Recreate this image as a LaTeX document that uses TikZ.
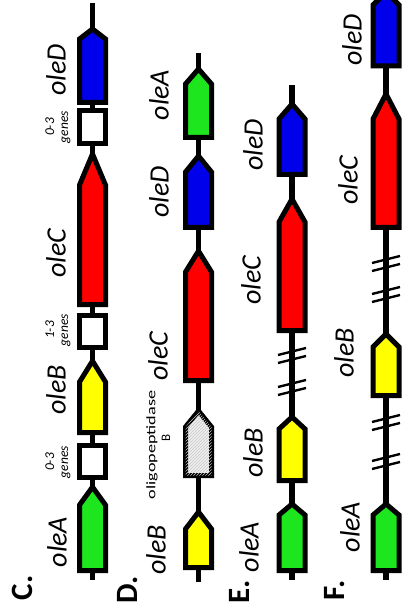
\documentclass[tikz,border=0pt]{standalone}
\usepackage{fontspec}
\setmainfont{Carlito}
\usetikzlibrary{patterns}
\definecolor{gG}{RGB}{30,230,30}
\definecolor{gY}{RGB}{255,255,0}
\definecolor{gR}{RGB}{255,0,0}
\definecolor{gB}{RGB}{0,0,235}
\definecolor{gH}{RGB}{240,240,240}
\tikzset{
  genebody/.style={draw=black, line width=5pt, line join=miter},
  backbone/.style={draw=black, line width=5.5pt},
  brkline/.style={draw=black, line width=2.4pt},
  genelab/.style={rotate=90, font=\fontsize{28}{28}\selectfont\itshape, inner sep=0pt},
  panellab/.style={rotate=90, font=\fontsize{31}{31}\selectfont\bfseries, inner sep=0pt},
  smalllab/.style={rotate=90, font=\fontsize{13.5}{14}\selectfont\itshape, align=center, inner sep=0pt},
  oligolab/.style={rotate=90, font=\fontsize{13}{13}\selectfont, inner sep=0pt},
}
\newcommand\genearrow[6]{%
  \draw[genebody, fill=#5] (#1,#2) coordinate (#6t) -- ({#1+13},#3) -- ({#1+13},#4) -- ({#1-13},#4) -- ({#1-13},#3) -- cycle;
  \coordinate (#6b) at (#1,#4);
}
\newcommand\genebox[4]{%
  \draw[genebody, fill=white] ({#1-13},#2) coordinate (#4t) rectangle ({#1+13},#3);
}
\newcommand\breakpair[3]{%
  \coordinate (#3) at (#1,#2);
  \draw[brkline, shift={(#3)}] (-14,-1) -- (14,-8) (-14,7) -- (14,0);
}
\begin{document}
\begin{tikzpicture}[x=1pt,y=-1pt]
\useasboundingbox (0,0) rectangle (404,609);
\clip (0,0) rectangle (404,609);
% ---------- C ----------
\coordinate (Ctop) at (92.5,3);
\coordinate (Cend) at (92.5,580);
\draw[backbone] (Ctop) -- (Cend);
\genearrow{92.5}{29}{39}{102.5}{gB}{CD}
\genebox{92.5}{110.5}{143.5}{Cx1}
\genearrow{92.5}{154}{185}{304.5}{gR}{CC}
\genebox{92.5}{315.5}{347.5}{Cx2}
\genearrow{92.5}{361}{382}{432.5}{gY}{CB}
\genebox{92.5}{445.5}{477.5}{Cx3}
\genearrow{92.5}{487}{505}{570.5}{gG}{CA}
\node[panellab] (labC) at (22,588) {C.};
\node[genelab] (lCA) at (57,542) {oleA};
\node[smalllab] (sC3) at (58,462) {0-3\\genes};
\node[genelab] (lCB) at (56,390) {oleB};
\node[smalllab] (sC2) at (58,330) {1-3\\genes};
\node[genelab] (lCC) at (56,253) {oleC};
\node[smalllab] (sC1) at (58,127) {0-3\\genes};
\node[genelab] (lCD) at (56,70) {oleD};
% ---------- D ----------
\coordinate (Dtop) at (198.5,53);
\coordinate (Dend) at (198.5,582);
\draw[backbone] (Dtop) -- (Dend);
\genearrow{198.5}{69}{84}{137.5}{gG}{DA}
\genearrow{198.5}{156}{172}{227.5}{gB}{DD}
\genearrow{198.5}{251}{272}{380.5}{gR}{DC}
\draw[genebody, fill=gH, postaction={pattern=north east lines, pattern color=gray!45}] (198.5,411) coordinate (DOt) -- (211.5,427) -- (211.5,475.5) -- (185.5,475.5) -- (185.5,427) -- cycle;
\genearrow{198.5}{512}{529}{567.5}{gY}{DB}
\node[panellab] (labD) at (128,590) {D.};
\node[genelab] (lDB) at (156,550) {oleB};
\node[oligolab] (lDO) at (152,445) {\scalebox{1.4}[1]{oligopeptidase}};
\node[oligolab] (lDOb) at (166,438) {B};
\node[genelab] (lDC) at (158,356) {oleC};
\node[genelab] (lDD) at (159,192) {oleD};
\node[genelab] (lDA) at (159,95) {oleA};
% ---------- E ----------
\coordinate (Etop) at (292,85);
\coordinate (Eend) at (292,580);
\draw[backbone] (Etop) -- (Eend);
\genearrow{292}{104}{119}{174.5}{gB}{ED}
\genearrow{292}{199}{222}{330.5}{gR}{EC}
\breakpair{292}{356}{Eb1}
\breakpair{292}{388}{Eb2}
\genearrow{292}{417}{429}{480.5}{gY}{EB}
\genearrow{292}{504}{515}{570.5}{gG}{EA}
\node[panellab] (labE) at (240,592) {E.};
\node[genelab] (lEA) at (249,547) {oleA};
\node[genelab] (lEB) at (253,453) {oleB};
\node[genelab] (lEC) at (251,280) {oleC};
\node[genelab] (lED) at (253,145) {oleD};
% ---------- F ----------
\coordinate (Ftop) at (386,-20);
\coordinate (Fend) at (386,580);
\draw[backbone] (Ftop) -- (Fend);
\genearrow{386}{-8}{5}{66}{gB}{FD}
\genearrow{386}{94}{119}{227.5}{gR}{FC}
\breakpair{386}{264}{Fb1}
\breakpair{386}{295}{Fb2}
\genearrow{386}{334}{347}{395.5}{gY}{FB}
\breakpair{386}{423}{Fb3}
\breakpair{386}{462}{Fb4}
\genearrow{386}{504}{515}{570.5}{gG}{FA}
\node[panellab] (labF) at (335,590) {F.};
\node[genelab] (lFA) at (350,527) {oleA};
\node[genelab] (lFB) at (344,353) {oleB};
\node[genelab] (lFC) at (348,180) {oleC};
\node[genelab] (lFD) at (352,40) {oleD};
\end{tikzpicture}
\end{document}
